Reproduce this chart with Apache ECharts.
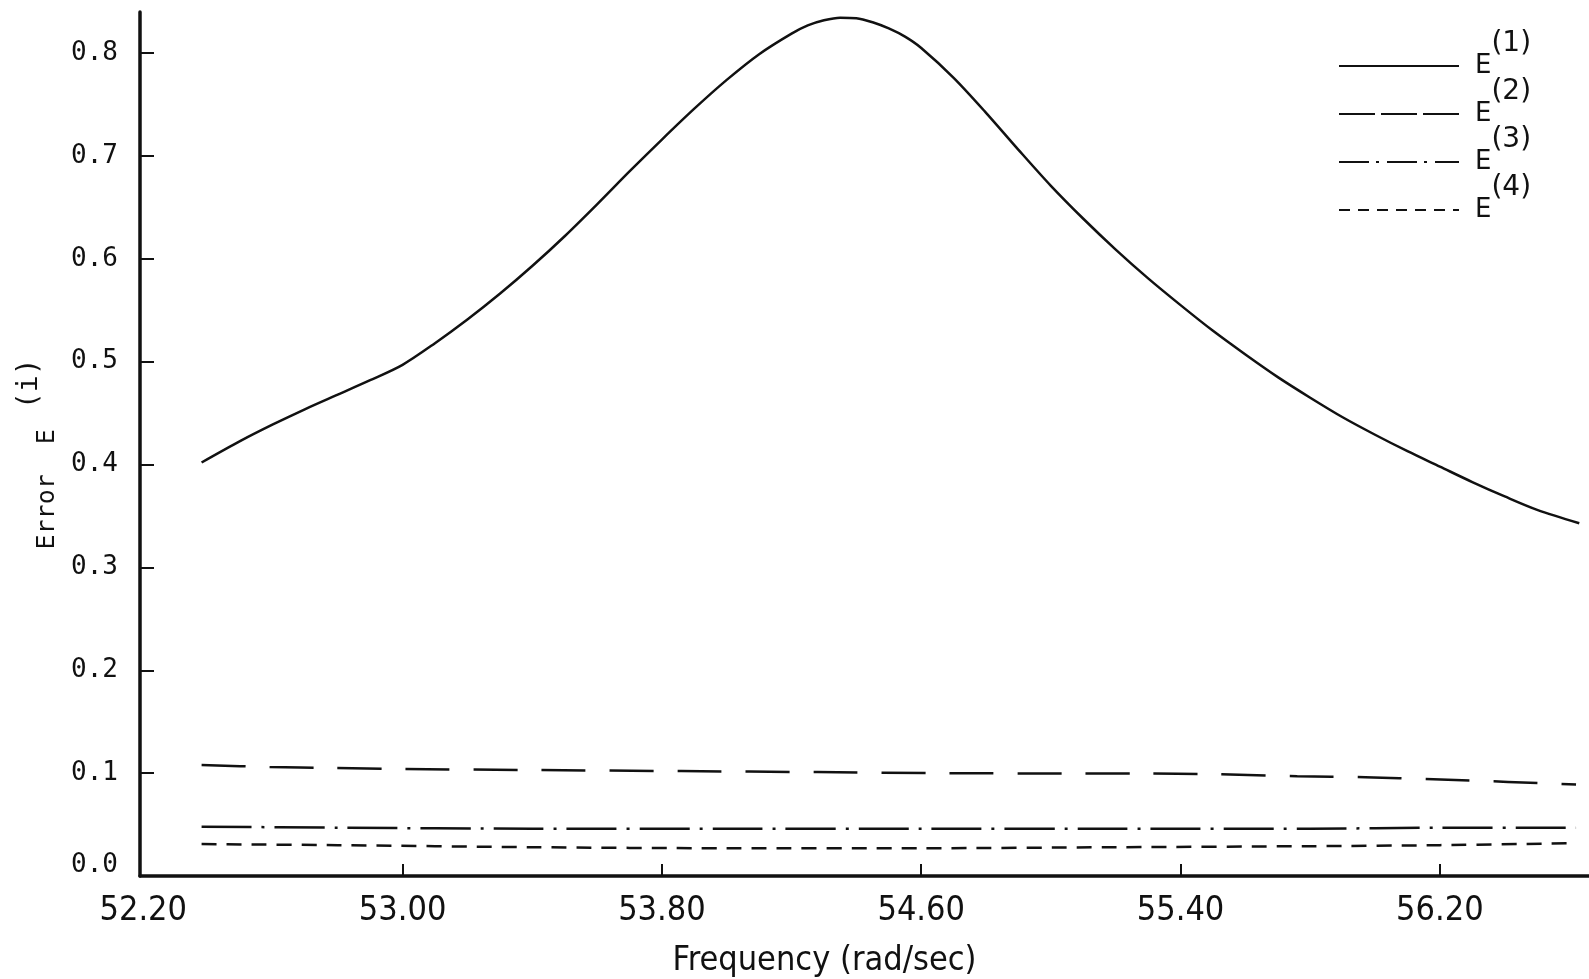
<!DOCTYPE html>
<html>
<head>
<meta charset="utf-8">
<script src="https://cdn.jsdelivr.net/npm/echarts@6/dist/echarts.min.js"></script>
<style>
html,body{margin:0;padding:0;background:#fff;}
#chart{width:1589px;height:979px;}
</style>
</head>
<body>
<div id="chart"></div>
<script>
// ---- data ----
const freqE1 = [52.38, 52.5, 52.6, 52.7, 52.8, 52.9, 53.0, 53.1, 53.2, 53.3, 53.4, 53.5, 53.6, 53.7, 53.8, 53.9, 54.0, 54.1, 54.2, 54.25, 54.3, 54.35, 54.4, 54.45, 54.5, 54.55, 54.6, 54.7, 54.8, 54.9, 55.0, 55.1, 55.2, 55.3, 55.4, 55.5, 55.6, 55.7, 55.8, 55.9, 56.0, 56.1, 56.2, 56.3, 56.4, 56.5, 56.63];
const errE1  = [0.402, 0.423, 0.439, 0.454, 0.468, 0.482, 0.497, 0.518, 0.541, 0.566, 0.593, 0.622, 0.653, 0.685, 0.716, 0.746, 0.774, 0.799, 0.819, 0.827, 0.832, 0.8345, 0.834, 0.830, 0.824, 0.816, 0.805, 0.776, 0.742, 0.706, 0.671, 0.639, 0.609, 0.581, 0.555, 0.530, 0.507, 0.485, 0.465, 0.446, 0.429, 0.413, 0.398, 0.383, 0.369, 0.356, 0.343];

const freqE2 = [52.38, 52.59, 52.78, 53.00, 53.42, 53.86, 54.28, 54.68, 55.06, 55.27, 55.51, 55.76, 55.97, 56.18, 56.41, 56.62];
const errE2  = [0.108, 0.106, 0.105, 0.104, 0.103, 0.102, 0.101, 0.100, 0.0997, 0.0997, 0.099, 0.097, 0.096, 0.094, 0.0915, 0.089];

const freqE3 = [52.38, 52.80, 53.40, 54.00, 54.60, 55.20, 55.80, 56.20, 56.62];
const errE3  = [0.048, 0.047, 0.046, 0.046, 0.046, 0.046, 0.046, 0.047, 0.047];

const freqE4 = [52.38, 52.80, 53.40, 54.00, 54.60, 55.20, 55.80, 56.20, 56.62];
const errE4  = [0.031, 0.030, 0.028, 0.027, 0.027, 0.028, 0.029, 0.030, 0.032];

const xTickLabels = [52.2, 53.0, 53.8, 54.6, 55.4, 56.2];
const xTickMarks  = [53.0, 53.8, 54.6, 55.4, 56.2];
const yTickLabels = [0, 0.1, 0.2, 0.3, 0.4, 0.5, 0.6, 0.7, 0.8];
const yTickMarks  = [0.1, 0.2, 0.3, 0.4, 0.5, 0.6, 0.7, 0.8];

const seriesNames = ['E1', 'E2', 'E3', 'E4'];

const pairs = (xs, ys) => xs.map((x, i) => [x, ys[i]]);

const chart = echarts.init(document.getElementById('chart'), null, {renderer: 'canvas'});

const INK = '#111';
const narrow = "'Liberation Sans Narrow', 'DejaVu Sans Condensed', sans-serif";
const mono = "'DejaVu Sans Mono', monospace";
const sans = "'DejaVu Sans', sans-serif";

chart.setOption({
  backgroundColor: '#fff',
  animation: false,
  grid: {left: 140, right: 0, top: 12, bottom: 103, containLabel: false, outerBoundsMode: 'none'},
  legend: {
    orient: 'vertical',
    left: 1333,
    top: 25,
    itemWidth: 120,
    itemHeight: 20,
    itemGap: -1,
    data: [
      {name: seriesNames[0]},
      {name: seriesNames[1], lineStyle: {type: [36, 6]}},
      {name: seriesNames[2], lineStyle: {type: [30, 7, 3, 8]}},
      {name: seriesNames[3], lineStyle: {type: [11, 8]}}
    ],
    itemStyle: {opacity: 0},
    formatter: n => '{e|E}{s|(' + n.slice(1) + ')}',
    textStyle: {
      color: INK,
      rich: {
        e: {fontFamily: sans, fontSize: 26, lineHeight: 72, color: INK, padding: [0, 0, 0, 11]},
        s: {fontFamily: sans, fontSize: 28, verticalAlign: 'top', color: INK}
      }
    }
  },
  xAxis: {
    type: 'value',
    min: 52.19,
    max: 56.66,
    axisLine: {show: true, onZero: false, lineStyle: {color: INK, width: 3.5}},
    axisTick: {show: true, inside: true, length: 12, customValues: xTickMarks, lineStyle: {color: INK, width: 2}},
    axisLabel: {
      customValues: xTickLabels,
      formatter: v => Number(v).toFixed(2),
      margin: 18,
      color: INK,
      fontFamily: narrow,
      fontSize: 34
    },
    splitLine: {show: false},
    name: 'Frequency (rad/sec)',
    nameLocation: 'middle',
    nameGap: 68,
    nameTextStyle: {color: INK, fontFamily: narrow, fontSize: 34, padding: [0, 80, 0, 0]}
  },
  yAxis: {
    type: 'value',
    min: 0,
    max: 0.84,
    axisLine: {show: true, lineStyle: {color: INK, width: 3.5}},
    axisTick: {show: true, inside: true, length: 14, customValues: yTickMarks, lineStyle: {color: INK, width: 2}},
    axisLabel: {
      customValues: yTickLabels,
      formatter: v => (v === 0 ? '{z|0.0}' : Number(v).toFixed(1)),
      margin: 22,
      color: INK,
      fontFamily: mono,
      fontSize: 26,
      rich: {z: {fontFamily: mono, fontSize: 26, color: INK, padding: [0, 0, 22, 0]}}
    },
    splitLine: {show: false},
    name: '{a|Error  E}{s|(i)}',
    nameLocation: 'middle',
    nameRotate: 90,
    nameGap: 59,
    nameTextStyle: {
      color: INK,
      padding: [0, 20, 0, 0],
      rich: {
        a: {fontFamily: mono, fontSize: 25, lineHeight: 64, color: INK},
        s: {fontFamily: mono, fontSize: 28, verticalAlign: 'top', color: INK, padding: [0, 0, 0, 20]}
      }
    }
  },
  series: [
    {name: 'E1', type: 'line', data: pairs(freqE1, errE1), symbol: 'none', smooth: 0.3,
     lineStyle: {color: INK, width: 2.5, type: 'solid'}, itemStyle: {color: INK}},
    {name: 'E2', type: 'line', data: pairs(freqE2, errE2), symbol: 'none', smooth: 0.3,
     lineStyle: {color: INK, width: 2.5, type: [44, 24]}, itemStyle: {color: INK}},
    {name: 'E3', type: 'line', data: pairs(freqE3, errE3), symbol: 'none', smooth: 0.3,
     lineStyle: {color: INK, width: 2.5, type: [50, 10, 3, 10]}, itemStyle: {color: INK}},
    {name: 'E4', type: 'line', data: pairs(freqE4, errE4), symbol: 'none', smooth: 0.3,
     lineStyle: {color: INK, width: 2.5, type: [15, 10]}, itemStyle: {color: INK}}
  ]
});
</script>
</body>
</html>
